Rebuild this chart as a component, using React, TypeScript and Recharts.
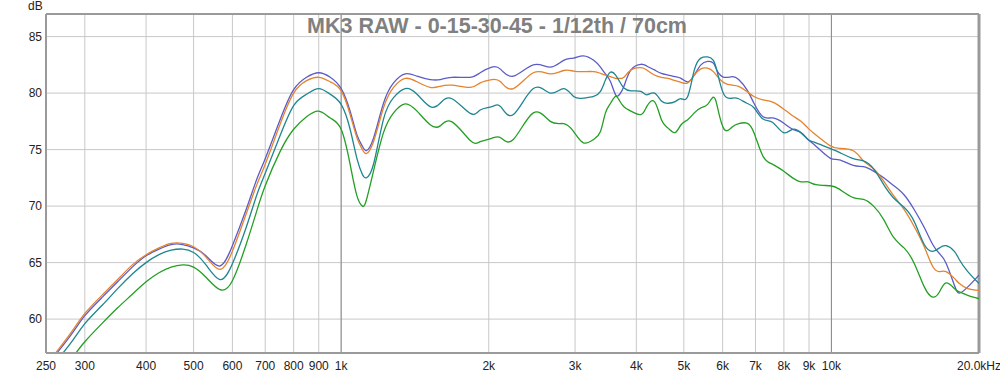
import { LineChart, Line, XAxis, YAxis, CartesianGrid, ReferenceLine } from "recharts"

const freqs = [
  250, 280, 300, 325, 350, 375, 400, 425, 450, 475, 500, 530, 566, 600, 640, 673, 700, 750, 800, 850,
  900, 950, 1000, 1043, 1077, 1105, 1125, 1164, 1220, 1279, 1351, 1428, 1519, 1592, 1683, 1834, 1921,
  2029, 2115, 2245, 2466, 2670, 2842, 2980, 3121, 3274, 3380, 3460, 3544, 3629, 3700, 3774, 3900, 4087,
  4200, 4355, 4500, 4643, 4800, 4935, 5091, 5253, 5417, 5590, 5743, 5859, 6041, 6275, 6468, 6722, 6950,
  7254, 7590, 7985, 8334, 8666, 8958, 9299, 9935, 10379, 11081, 11623, 12190, 12784, 13408, 14062,
  14748, 15467, 16094, 16606, 17134, 17816, 18242, 18976, 20000,
]

// 0 deg
const blue = [
  55.8, 58.5, 60.3, 61.9, 63.3, 64.6, 65.6, 66.2, 66.6, 66.6, 66.3, 65.6, 64.7, 66.5, 69.7, 72.4, 74.2, 77.6, 80.3, 81.4,
  81.8, 81.4, 80.4, 78.4, 76.3, 75.3, 74.9, 76.0, 79.1, 80.9, 81.7, 81.5, 81.2, 81.2, 81.4, 81.4, 81.8,
  82.3, 82.1, 81.5, 82.5, 82.3, 82.9, 83.1, 83.3, 82.9, 82.3, 81.7, 81.0, 79.85, 79.9, 80.6, 82.05, 82.55,
  82.4, 82.05, 81.75, 81.6, 81.45, 81.3, 81.0, 81.6, 82.5, 82.8, 82.65, 81.9, 81.4, 81.45, 81.2, 80.3, 79.1,
  77.9, 77.8, 77.35, 76.8, 76.5, 75.9, 75.3, 74.25, 74.1, 73.6, 73.5, 73.1, 72.5, 71.8, 71.0,
  69.7, 68.1, 66.6, 65.8, 64.95, 63.0, 62.3, 62.85, 63.9,
]

// 15 deg
const orange = [
  55.9, 58.7, 60.5, 62.1, 63.5, 64.8, 65.7, 66.3, 66.7, 66.7, 66.4, 65.5, 64.4, 66.0, 69.3, 71.9, 73.7, 77.2, 80.0, 81.1,
  81.4, 81.0, 80.2, 78.1, 76.05, 75.0, 74.65, 75.7, 78.7, 80.5, 81.3, 81.0, 80.5, 80.6, 80.7, 80.5, 80.9,
  81.2, 81.0, 80.4, 81.8, 81.7, 82.0, 81.95, 81.9, 81.9, 81.75, 81.6, 81.45, 81.3, 81.3, 81.4, 82.05, 82.25,
  82.05, 81.6, 81.4, 81.3, 81.1, 80.95, 80.9, 81.6, 82.15, 82.2, 81.9, 81.45, 80.9, 80.7, 80.6, 80.15, 79.7,
  79.4, 79.2, 78.6, 78.0, 77.5, 76.9, 76.3, 75.35, 75.1, 74.9, 74.0, 73.3, 72.2, 70.9, 69.7,
  68.2, 66.4, 64.65, 64.2, 64.2, 63.6, 63.15, 62.7, 62.55,
]

// 30 deg
const teal = [
  55.2, 57.8, 59.6, 61.2, 62.7, 64.0, 65.0, 65.7, 66.1, 66.2, 65.9, 64.8, 63.5, 64.9, 68.1, 71.0, 72.9, 76.2, 78.9, 79.9,
  80.4, 79.9, 79.0, 76.8, 74.2, 72.8, 72.5, 73.7, 77.7, 79.6, 80.4, 79.9, 78.8, 79.1, 79.5, 78.2, 78.5,
  78.8, 78.8, 78.1, 80.4, 80.0, 80.4, 79.7, 79.55, 79.7, 80.15, 81.15, 81.85, 81.6, 81.0, 80.45, 80.2, 80.15,
  79.85, 80.0, 79.3, 79.1, 79.25, 79.5, 79.7, 82.05, 83.1, 83.2, 82.9, 81.75, 79.85, 79.55, 79.5, 79.1, 78.7,
  77.7, 77.4, 76.5, 76.8, 76.5, 75.9, 75.6, 75.1, 74.75, 74.2, 74.0, 73.3, 71.9, 70.7, 69.9,
  68.65, 66.6, 66.0, 66.3, 66.5, 66.0, 65.25, 64.2, 63.15,
]

// 45 deg
const green = [
  53.3, 56.3, 58.0, 59.6, 61.0, 62.2, 63.3, 64.1, 64.6, 64.8, 64.6, 63.7, 62.6, 63.4, 66.6, 69.6, 71.8, 74.8, 76.8, 77.9,
  78.4, 77.8, 76.8, 73.7, 70.9, 70.0, 70.5, 73.1, 76.5, 78.25, 79.05, 78.4, 77.2, 77.1, 77.45, 75.8, 75.7,
  76.0, 76.05, 75.9, 78.25, 77.5, 77.3, 76.6, 75.6, 75.9, 76.6, 78.25, 79.1, 79.7, 79.3, 78.8, 78.4, 78.1,
  78.8, 79.25, 77.65, 76.9, 76.5, 77.2, 77.65, 78.25, 78.7, 79.0, 79.65, 78.7, 76.8, 77.0, 77.3, 77.35, 76.5,
  74.4, 73.7, 73.1, 72.5, 72.15, 72.15, 71.9, 71.8, 71.5, 70.75, 70.6, 70.0, 68.8, 67.2, 66.3,
  64.95, 62.85, 61.95, 62.4, 63.2, 62.7, 62.4, 62.1, 61.8,
]

const xTicks = [250, 300, 400, 500, 600, 700, 800, 900, 1000, 2000, 3000, 4000, 5000, 6000, 7000, 8000, 9000, 10000, 20000]
const yTicks = [60, 65, 70, 75, 80, 85]

const data = freqs.map((f, i) => ({
  f,
  a0: blue[i],
  a15: orange[i],
  a30: teal[i],
  a45: green[i],
}))

const fmtHz = (f: number) => (f === 20000 ? "20.0kHz" : f >= 1000 ? `${f / 1000}k` : `${f}`)

const font = "'Liberation Sans', Arial, sans-serif"

export default function App() {
  return (
    <div style={{ position: "absolute", left: 0, top: 0, width: 1000, height: 374, background: "#fff", fontFamily: font }}>
      <LineChart width={1000} height={374} data={data} margin={{ top: 14, right: 21, left: 0, bottom: 0 }}>
        <CartesianGrid stroke="#c8c8c8" strokeWidth={1} />
        <XAxis
          dataKey="f"
          type="number"
          scale="log"
          domain={[250, 20000]}
          ticks={xTicks}
          tickFormatter={fmtHz}
          allowDataOverflow
          height={21}
          tickLine={false}
          axisLine={{ stroke: "#9a9a9a", strokeWidth: 2 }}
          tick={{ fontSize: 12, fill: "#222", fontFamily: font }}
          interval={0}
        />
        <YAxis
          domain={[57, 87]}
          ticks={yTicks}
          allowDataOverflow
          width={46}
          tickLine={false}
          tickSize={0}
          tickMargin={4}
          axisLine={{ stroke: "#9a9a9a", strokeWidth: 2 }}
          tick={{ fontSize: 12, fill: "#222", fontFamily: font }}
        />
        <ReferenceLine x={1000} stroke="#8a8a8a" />
        <ReferenceLine x={10000} stroke="#8a8a8a" />
        <ReferenceLine y={87} stroke="#9a9a9a" strokeWidth={2} />
        <ReferenceLine x={20000} stroke="#9a9a9a" strokeWidth={3} />
        <Line dataKey="a0" type="natural" stroke="#5c5cc8" strokeWidth={1.3} dot={false} isAnimationActive={false} />
        <Line dataKey="a15" type="natural" stroke="#e5832e" strokeWidth={1.3} dot={false} isAnimationActive={false} />
        <Line dataKey="a30" type="natural" stroke="#1f8690" strokeWidth={1.3} dot={false} isAnimationActive={false} />
        <Line dataKey="a45" type="natural" stroke="#239f23" strokeWidth={1.3} dot={false} isAnimationActive={false} />
      </LineChart>
      <div style={{ position: "absolute", left: 28, top: 0, fontSize: 12, lineHeight: "12px", color: "#222" }}>dB</div>
      <div
        style={{
          position: "absolute",
          left: 0,
          width: 994,
          top: 14,
          textAlign: "center",
          fontSize: 21.5,
          lineHeight: "24px",
          fontWeight: "bold",
          color: "#808080",
          pointerEvents: "none",
        }}
      >
        MK3 RAW - 0-15-30-45 - 1/12th / 70cm
      </div>
    </div>
  )
}
